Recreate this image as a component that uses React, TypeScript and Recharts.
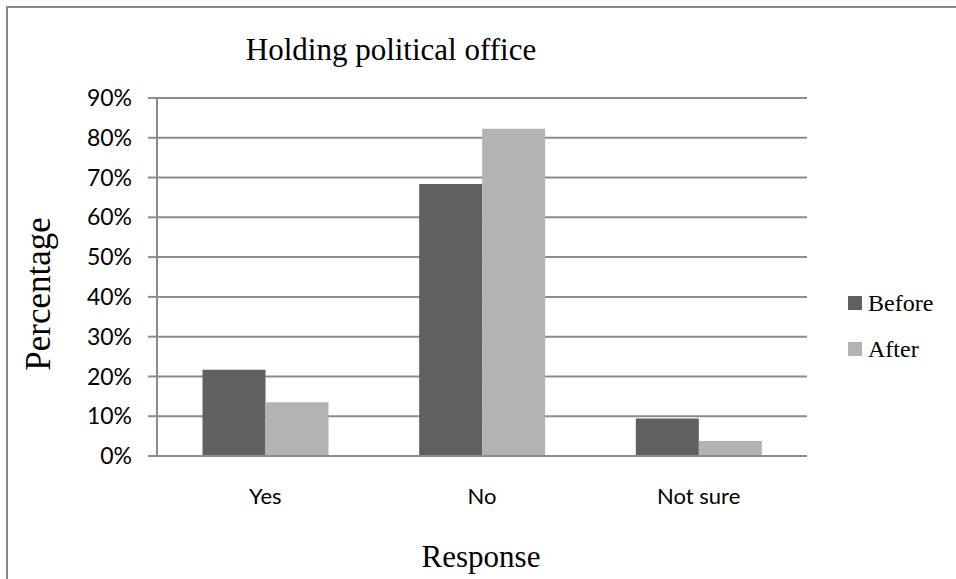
import React from 'react';
import { BarChart, Bar, XAxis, YAxis, CartesianGrid } from 'recharts';

const categories = ['Yes', 'No', 'Not sure'];
const before = [21.7, 68.4, 9.4];
const after = [13.5, 82.3, 3.8];
const yTicks = [0, 10, 20, 30, 40, 50, 60, 70, 80, 90];

const data = categories.map((response, i) => ({
  response,
  Before: before[i],
  After: after[i],
}));

const SERIF = '"Liberation Serif", "Times New Roman", serif';
const SANS = 'Lato, "Open Sans", sans-serif';

const legendItems = [
  { name: 'Before', color: '#606060' },
  { name: 'After', color: '#b3b3b3' },
];

export default function App() {
  return (
    <div style={{ position: 'absolute', left: 0, top: 0, width: 956, height: 579, background: '#fff' }}>
      {/* Word-style frame, only left and top edges show */}
      <div
        style={{
          position: 'absolute',
          left: 6,
          top: 6,
          width: 950,
          height: 573,
          borderLeft: '2px solid #888',
          borderTop: '2px solid #888',
        }}
      />
      <div
        style={{
          position: 'absolute',
          left: 191,
          top: 34,
          width: 400,
          textAlign: 'center',
          fontFamily: SERIF,
          fontSize: 31,
          color: '#000',
          lineHeight: 1,
        }}
      >
        Holding political office
      </div>
      <BarChart
        width={956}
        height={579}
        data={data}
        margin={{ top: 98, right: 149, bottom: 43, left: 0 }}
        barCategoryGap="21%"
        barGap={0}
        style={{ position: 'absolute', left: 0, top: 0 }}
      >
        <CartesianGrid vertical={false} stroke="#8c8c8c" strokeWidth={2} />
        <XAxis
          dataKey="response"
          height={80}
          axisLine={{ stroke: '#8c8c8c', strokeWidth: 2 }}
          tickLine={false}
          tickSize={0}
          tickMargin={32}
          tick={{ fill: '#000', fontFamily: SANS, fontSize: 22 }}
        />
        <YAxis
          width={157}
          domain={[0, 90]}
          ticks={yTicks}
          interval={0}
          tickFormatter={(v: number) => `${v}%`}
          axisLine={{ stroke: '#8c8c8c', strokeWidth: 2 }}
          tickLine={{ stroke: '#8c8c8c', strokeWidth: 2 }}
          tickSize={9}
          tickMargin={16}
          tick={{ fill: '#000', fontFamily: SANS, fontSize: 23 }}
        />
        <Bar dataKey="Before" fill="#606060" isAnimationActive={false} />
        <Bar dataKey="After" fill="#b3b3b3" isAnimationActive={false} />
      </BarChart>
      {/* axis titles */}
      <div
        style={{
          position: 'absolute',
          left: 381,
          top: 541,
          width: 200,
          textAlign: 'center',
          fontFamily: SERIF,
          fontSize: 31,
          lineHeight: 1,
          color: '#000',
        }}
      >
        Response
      </div>
      <div
        style={{
          position: 'absolute',
          left: 38,
          top: 294,
          transform: 'translate(-50%, -50%) rotate(-90deg)',
          whiteSpace: 'nowrap',
          fontFamily: SERIF,
          fontSize: 35,
          lineHeight: 1,
          color: '#000',
        }}
      >
        Percentage
      </div>
      {/* legend kept outside the chart so it doesn't eat plot height */}
      <div style={{ position: 'absolute', left: 848, top: 280, fontFamily: SERIF, fontSize: 24, color: '#000' }}>
        {legendItems.map((item) => (
          <div key={item.name} style={{ display: 'flex', alignItems: 'center', height: 46 }}>
            <div style={{ width: 14, height: 14, background: item.color, marginRight: 6 }} />
            <span>{item.name}</span>
          </div>
        ))}
      </div>
    </div>
  );
}
